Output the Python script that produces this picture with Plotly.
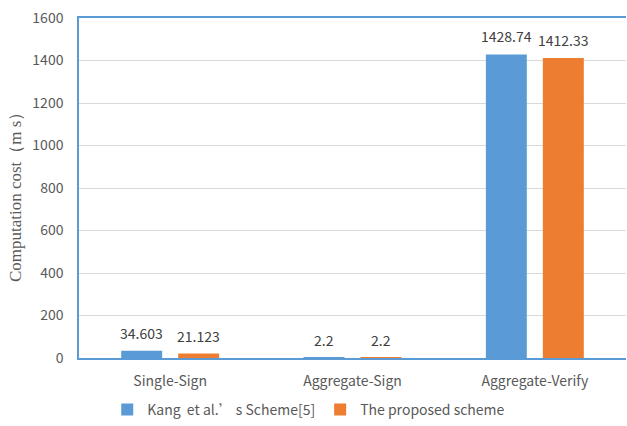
import plotly.graph_objects as go

categories = ["Single-Sign", "Aggregate-Sign", "Aggregate-Verify"]
kang_values = [34.603, 2.2, 1428.74]
proposed_values = [21.123, 2.2, 1412.33]
kang_labels = ["34.603", "2.2", "1428.74"]
proposed_labels = ["21.123", "2.2", "1412.33"]
y_ticks = [0, 200, 400, 600, 800, 1000, 1200, 1400, 1600]

BLUE = "#5B9BD5"
ORANGE = "#ED7D31"
SANS = "Noto Sans CJK SC, Noto Sans, sans-serif"
TICK_FONT = dict(family=SANS, size=14, color="#595959")
LABEL_FONT = dict(family=SANS, size=14, color="#404040")

fig = go.Figure()
fig.add_trace(go.Bar(x=categories, y=kang_values, name="Kang  et al.’ s Scheme[5]",
                     marker=dict(color=BLUE, line=dict(width=0))))
fig.add_trace(go.Bar(x=categories, y=proposed_values, name="The proposed scheme",
                     marker=dict(color=ORANGE, line=dict(width=0))))

# value labels above each bar
annotations = []
for cat, v, t in zip(categories, kang_values, kang_labels):
    annotations.append(dict(x=cat, y=v, text=t, xref="x", yref="y", showarrow=False,
                            xshift=-28.5, yshift=6, yanchor="bottom", font=LABEL_FONT))
for cat, v, t in zip(categories, proposed_values, proposed_labels):
    annotations.append(dict(x=cat, y=v, text=t, xref="x", yref="y", showarrow=False,
                            xshift=28.5, yshift=6, yanchor="bottom", font=LABEL_FONT))

annotations.append(dict(x=-0.117, y=0.485, xref="paper", yref="paper", showarrow=False,
                        text="Computation cost（m s）", textangle=-90,
                        xanchor="center", yanchor="middle",
                        font=dict(family="Liberation Serif, serif", size=17, color="#595959")))

fig.update_layout(
    width=627, height=426,
    margin=dict(l=79, r=1, t=18, b=67),
    paper_bgcolor="white", plot_bgcolor="white",
    barmode="group", bargap=0.375, bargroupgap=0.281,
    showlegend=True,
    legend=dict(orientation="h", x=0.42, y=-0.15, xanchor="center", yanchor="middle",
                font=dict(family=SANS, size=14, color="#595959"),
                itemwidth=30, traceorder="normal"),
    annotations=annotations,
    xaxis=dict(showline=True, linecolor=BLUE, linewidth=1.5, mirror=True,
               showgrid=False, ticks="", tickfont=TICK_FONT, ticklabelstandoff=9),
    yaxis=dict(range=[0, 1600], tickvals=y_ticks, showline=True, linecolor=BLUE, linewidth=1.5,
               showgrid=True, gridcolor="#D9D9D9", gridwidth=1, zeroline=False,
               ticks="", tickfont=TICK_FONT, ticklabelstandoff=11),
)

fig.write_html("out.html")
